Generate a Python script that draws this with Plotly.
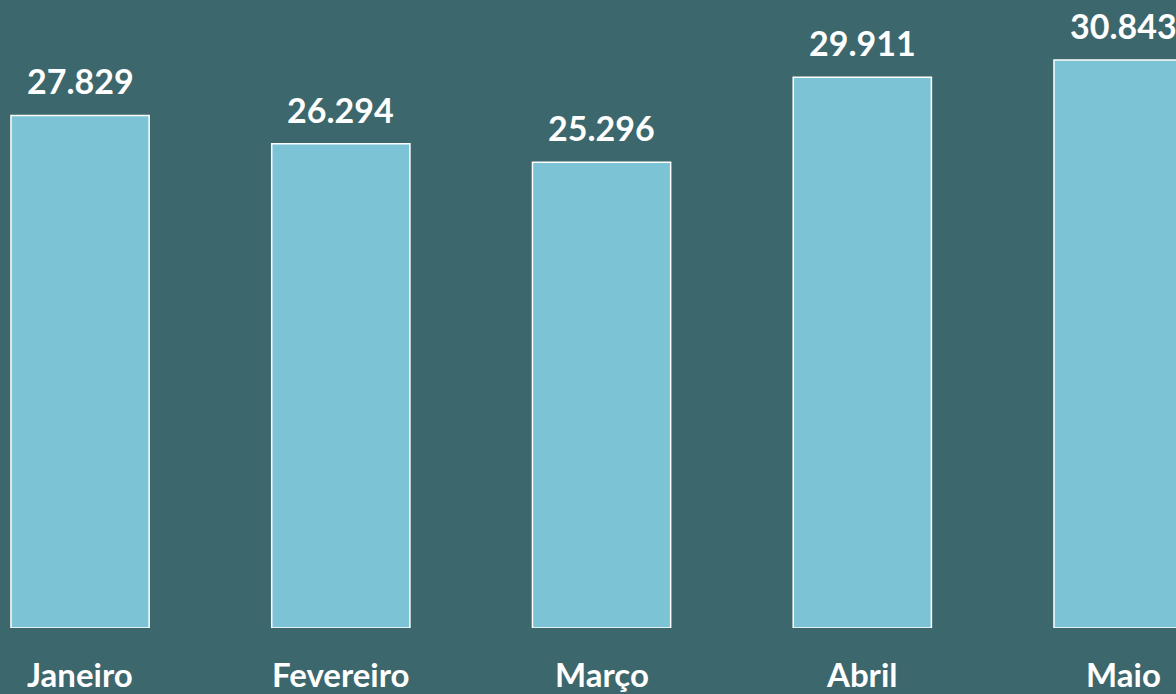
import plotly.graph_objects as go

months = ["Janeiro", "Fevereiro", "Março", "Abril", "Maio"]
values = [27.829, 26.294, 25.296, 29.911, 30.843]
value_labels = ["27.829", "26.294", "25.296", "29.911", "30.843"]

BG = "#3c676c"
BAR = "#7dc3d6"
FONT = "Lato"

fig = go.Figure()
fig.add_trace(go.Bar(
    x=months, y=values, width=0.53,
    marker=dict(color=BAR, line=dict(color="white", width=1.5)),
    hoverinfo="skip",
))

for m, v, lab in zip(months, values, value_labels):
    fig.add_annotation(x=m, y=v, text=f"<b>{lab}</b>", showarrow=False,
                       yanchor="bottom", yshift=12,
                       font=dict(family=FONT, size=34, color="white"))
    fig.add_annotation(x=m, y=0, yref="paper", text=f"<b>{m}</b>", showarrow=False,
                       yanchor="middle", yshift=-46,
                       font=dict(family=FONT, size=33, color="white"))

fig.update_layout(
    width=1176, height=694,
    margin=dict(l=0, r=0, t=0, b=66),
    paper_bgcolor=BG, plot_bgcolor=BG,
    showlegend=False,
    xaxis=dict(range=[-0.307, 4.203], showticklabels=False, showgrid=False,
               zeroline=False, showline=False, ticks=""),
    yaxis=dict(range=[0, 34.1], visible=False, showgrid=False, zeroline=False),
)

fig.write_html("out.html",
               config={"displayModeBar": False},
               post_script="document.body.style.margin='0';document.body.style.overflow='hidden';document.body.style.background='" + BG + "';")
